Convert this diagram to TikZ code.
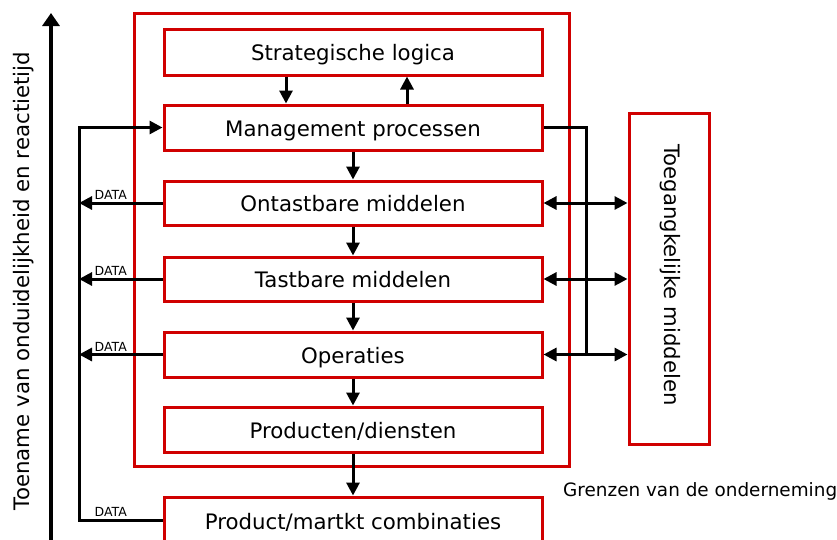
\documentclass[tikz,border=0pt]{standalone}
\usepackage{fontspec}
\setmainfont{DejaVu Sans}
\usetikzlibrary{arrows.meta,calc}
\definecolor{boxred}{RGB}{208,0,0}
\begin{document}
\begin{tikzpicture}[x=1pt,y=-1pt,
  redbox/.style={draw=boxred,line width=3pt,minimum width=378pt,inner sep=0pt,text height=17pt,text depth=0pt,font=\fontsize{21.3}{25}\selectfont},
  arr/.style={line width=3pt,-{Triangle[length=13pt,width=13pt]}},
  darr/.style={line width=3pt,{Triangle[length=13pt,width=13pt]}-{Triangle[length=13pt,width=13pt]}},
  plain/.style={line width=3pt},
  datalbl/.style={font=\fontsize{12.5}{14}\selectfont,inner sep=1pt,yshift=1pt}
]
\useasboundingbox (0,0) rectangle (837,539);
\clip (0,0) rectangle (837,539);
% boundary of the enterprise
\node[draw=boxred,line width=3pt,minimum width=435pt,minimum height=453pt,inner sep=0pt] (bound) at (351.5,239.5) {};
% inner boxes
\node[redbox,minimum height=46pt] (strat) at (353,52) {Strategische logica};
\node[redbox,minimum height=45pt] (mgmt) at (353,127.5) {Management processen};
\node[redbox,minimum height=44pt] (ont) at (353,203) {Ontastbare middelen};
\node[redbox,minimum height=44pt] (tast) at (353,279) {Tastbare middelen};
\node[redbox,minimum height=45pt] (oper) at (353,354.5) {Operaties};
\node[redbox,minimum height=45pt] (prod) at (353,429.5) {Producten/diensten};
\node[redbox,minimum height=48pt] (pmc) at (353,521) {Product/martkt combinaties};
% accessible resources
\node[draw=boxred,line width=3pt,minimum width=80pt,minimum height=331pt,inner sep=0pt] (toeg) at (669,278.5) {};
\node[rotate=-90,font=\fontsize{21.2}{25}\selectfont] (toegtxt) at (670,275) {Toegangkelijke middelen};
% labels
\node[anchor=west,font=\fontsize{18.4}{22}\selectfont,inner sep=0pt] (grenzen) at (563,491) {Grenzen van de onderneming};
\node[rotate=90,font=\fontsize{21.3}{25}\selectfont] (axislbl) at (24,281) {Toename van onduidelijkheid en reactietijd};
% axis arrow
\coordinate (axbot) at (51,545);
\coordinate (axtop) at (51,13);
\draw[line width=4pt,-{Triangle[length=13pt,width=17pt]}] (axbot) -- (axtop);
% vertical arrows between boxes
\draw[arr] ($(strat.south)+(-67,0)$) -- ($(mgmt.north)+(-67,0)$);
\draw[arr] ($(mgmt.north)+(54,0)$) -- ($(strat.south)+(54,0)$);
\draw[arr] (mgmt.south) -- (ont.north);
\draw[arr] (ont.south) -- (tast.north);
\draw[arr] (tast.south) -- (oper.north);
\draw[arr] (oper.south) -- (prod.north);
\draw[arr] (prod.south) -- (pmc.north);
% feedback loop on the left
\coordinate (fbtop) at (79,127.5);
\coordinate (fbbot) at (79,520);
\draw[arr] ($(pmc.west)+(0,-1)$) -- node[datalbl,above,pos=0.62] {DATA} (fbbot) -- (fbtop) -- (mgmt.west);
\draw[arr] (ont.west) -- node[datalbl,above,pos=0.62] {DATA} (ont.west -| fbtop);
\draw[arr] (tast.west) -- node[datalbl,above,pos=0.62] {DATA} (tast.west -| fbtop);
\draw[arr] (oper.west) -- node[datalbl,above,pos=0.62] {DATA} (oper.west -| fbtop);
% right side
\coordinate (rtop) at (586,127.5);
\coordinate (rbot) at (586,354.5);
\draw[plain] (mgmt.east) -- (rtop) -- (rbot);
\draw[darr] (ont.east) -- (ont.east -| toeg.west);
\draw[darr] (tast.east) -- (tast.east -| toeg.west);
\draw[darr] (oper.east) -- (oper.east -| toeg.west);
\end{tikzpicture}
\end{document}
